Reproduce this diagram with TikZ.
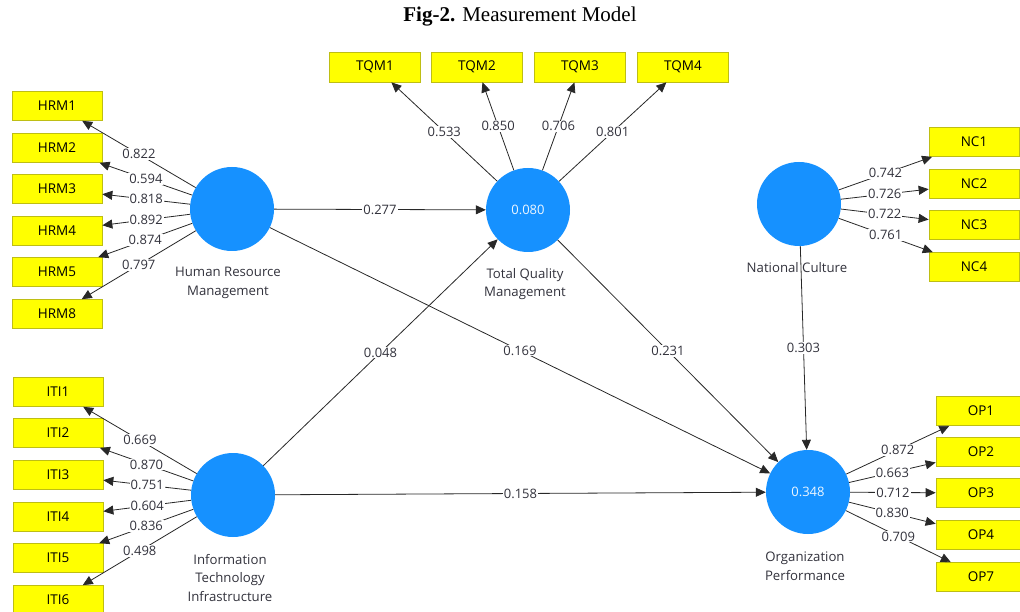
\documentclass[tikz,border=0pt]{standalone}
\usepackage{fontspec}
\setmainfont{Open Sans}
\newfontfamily\titlefont{Liberation Serif}
\usetikzlibrary{arrows.meta}
\definecolor{lvblue}{RGB}{22,145,255}
\definecolor{mvyellow}{RGB}{255,255,0}
\definecolor{mvborder}{RGB}{190,190,20}
\definecolor{edgegray}{RGB}{40,40,40}
\definecolor{labelgray}{RGB}{50,50,60}
\begin{document}
\begin{tikzpicture}[x=1pt,y=-1pt,
  lv/.style={circle,fill=lvblue,minimum size=84pt,inner sep=0pt,text=white!92!lvblue,font=\fontsize{13}{15}\selectfont},
  mv/.style={rectangle,fill=mvyellow,draw=mvborder,line width=0.7pt,minimum width=90pt,minimum height=29pt,inner sep=0pt,font=\fontsize{13.5}{15}\selectfont},
  lvname/.style={align=center,font=\fontsize{13.2}{18.5}\selectfont,text=labelgray},
  link/.style={draw=edgegray,line width=0.8pt,-{Triangle[length=10pt,width=9pt]}},
  coef/.style={fill=white,inner sep=1pt,font=\fontsize{13}{15}\selectfont,text=labelgray,pos=0.5}
]
\useasboundingbox (0,0) rectangle (1020,612);

% title
\node[font=\titlefont\fontsize{21}{24}\selectfont] (title) at (520,17) {\textbf{Fig-2.} Measurement Model};

% latent variables
\node[lv] (hrm) at (232,209) {};
\node[lv] (tqm) at (528,210) {0.080};
\node[lv] (nc)  at (799,204) {};
\node[lv] (iti) at (233,495) {};
\node[lv] (op)  at (808,492) {0.348};

% indicators: Human Resource Management
\node[mv] (hrm1) at (57,106) {HRM1};
\node[mv] (hrm2) at (57,148) {HRM2};
\node[mv] (hrm3) at (57,189) {HRM3};
\node[mv] (hrm4) at (57,231) {HRM4};
\node[mv] (hrm5) at (57,272) {HRM5};
\node[mv] (hrm8) at (57,314) {HRM8};

% indicators: Total Quality Management
\node[mv,minimum width=91pt,minimum height=30pt] (tqm1) at (375,67) {TQM1};
\node[mv,minimum width=91pt,minimum height=30pt] (tqm2) at (477,67) {TQM2};
\node[mv,minimum width=91pt,minimum height=30pt] (tqm3) at (580,67) {TQM3};
\node[mv,minimum width=91pt,minimum height=30pt] (tqm4) at (683,67) {TQM4};

% indicators: National Culture
\node[mv] (nc1) at (974,142) {NC1};
\node[mv] (nc2) at (974,184) {NC2};
\node[mv] (nc3) at (974,225) {NC3};
\node[mv] (nc4) at (974,267) {NC4};

% indicators: Information Technology Infrastructure
\node[mv] (iti1) at (58,392) {ITI1};
\node[mv] (iti2) at (58,433) {ITI2};
\node[mv] (iti3) at (58,475) {ITI3};
\node[mv] (iti4) at (58,517) {ITI4};
\node[mv] (iti5) at (58,558) {ITI5};
\node[mv] (iti6) at (58,600) {ITI6};

% indicators: Organization Performance
\node[mv] (op1) at (981,411) {OP1};
\node[mv] (op2) at (981,452) {OP2};
\node[mv] (op3) at (981,493) {OP3};
\node[mv] (op4) at (981,535) {OP4};
\node[mv] (op7) at (981,577) {OP7};

% structural paths
\draw[link] (hrm) -- node[coef] {0.277} (tqm);
\draw[link] (hrm) -- node[coef] {0.169} (op);
\draw[link] (iti) -- node[coef] {0.048} (tqm);
\draw[link] (iti) -- node[coef] {0.158} (op);
\draw[link] (tqm) -- node[coef] {0.231} (op);
\draw[link] (nc)  -- node[coef] {0.303} (op);

% outer loadings
\draw[link] (hrm) -- node[coef] {0.822} (hrm1);
\draw[link] (hrm) -- node[coef] {0.594} (hrm2);
\draw[link] (hrm) -- node[coef] {0.818} (hrm3);
\draw[link] (hrm) -- node[coef] {0.892} (hrm4);
\draw[link] (hrm) -- node[coef] {0.874} (hrm5);
\draw[link] (hrm) -- node[coef] {0.797} (hrm8);

\draw[link] (tqm) -- node[coef] {0.533} (tqm1);
\draw[link] (tqm) -- node[coef] {0.850} (tqm2);
\draw[link] (tqm) -- node[coef] {0.706} (tqm3);
\draw[link] (tqm) -- node[coef] {0.801} (tqm4);

\draw[link] (nc) -- node[coef] {0.742} (nc1);
\draw[link] (nc) -- node[coef] {0.726} (nc2);
\draw[link] (nc) -- node[coef] {0.722} (nc3);
\draw[link] (nc) -- node[coef] {0.761} (nc4);

\draw[link] (iti) -- node[coef] {0.669} (iti1);
\draw[link] (iti) -- node[coef] {0.870} (iti2);
\draw[link] (iti) -- node[coef] {0.751} (iti3);
\draw[link] (iti) -- node[coef] {0.604} (iti4);
\draw[link] (iti) -- node[coef] {0.836} (iti5);
\draw[link] (iti) -- node[coef] {0.498} (iti6);

\draw[link] (op) -- node[coef] {0.872} (op1);
\draw[link] (op) -- node[coef] {0.663} (op2);
\draw[link] (op) -- node[coef] {0.712} (op3);
\draw[link] (op) -- node[coef] {0.830} (op4);
\draw[link] (op) -- node[coef] {0.709} (op7);

% construct names
\node[lvname] (hrmname) at (228,283) {Human Resource\\Management};
\node[lvname] (tqmname) at (525,284) {Total Quality\\Management};
\node[lvname] (ncname)  at (797,268) {National Culture};
\node[lvname] (itiname) at (230,578) {Information\\Technology\\Infrastructure};
\node[lvname] (opname)  at (805,566) {Organization\\Performance};
\end{tikzpicture}
\end{document}
